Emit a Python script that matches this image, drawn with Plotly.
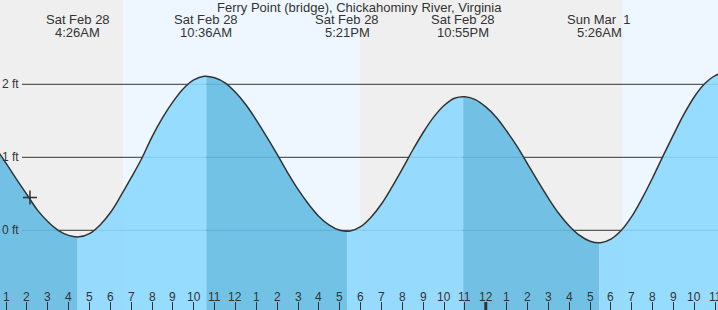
import plotly.graph_objects as go

# ---- data (hours since Sat Feb 28 00:00), tide height in ft ----
tide_t = [0.0, 0.5, 1.0, 1.5, 2.0, 2.5, 3.0, 3.5, 4.0, 4.5,
          5.0, 5.5, 6.0, 6.5, 7.0, 7.5, 8.0, 8.5, 9.0, 9.5,
          10.0, 10.5, 11.0, 11.5, 12.0, 12.5, 13.0, 13.5, 14.0, 14.5,
          15.0, 15.5, 16.0, 16.5, 17.0, 17.5, 18.0, 18.5, 19.0, 19.5,
          20.0, 20.5, 21.0, 21.5, 22.0, 22.5, 23.0, 23.5, 24.0, 24.5,
          25.0, 25.5, 26.0, 26.5, 27.0, 27.5, 28.0, 28.5, 29.0, 29.5,
          30.0, 30.5, 31.0, 31.5, 32.0, 32.5, 33.0, 33.5, 34.0, 34.5,
          35.0, 35.5, 36.0]
tide_h = [1.34, 1.13, 0.92, 0.70, 0.49, 0.28, 0.12, 0.00, -0.07, -0.09,
          -0.045, 0.07, 0.24, 0.47, 0.72, 0.98, 1.28, 1.54, 1.76, 1.94,
          2.06, 2.11, 2.09, 2.02, 1.89, 1.72, 1.51, 1.28, 1.04, 0.79,
          0.56, 0.36, 0.19, 0.07, 0.00, -0.01, 0.05, 0.18, 0.36, 0.59,
          0.84, 1.10, 1.34, 1.55, 1.71, 1.81, 1.83, 1.79, 1.69, 1.55,
          1.36, 1.15, 0.91, 0.67, 0.44, 0.23, 0.06, -0.07, -0.15, -0.17,
          -0.12, 0.00, 0.19, 0.44, 0.72, 1.02, 1.31, 1.59, 1.83, 2.01,
          2.12, 2.16, 2.14]

ext_t = [4.433, 10.6, 17.35, 22.917, 29.433, 35.5]
ext_h = [-0.09, 2.11, -0.01, 1.83, -0.17, 2.16]
ext_date = ["Sat Feb 28", "Sat Feb 28", "Sat Feb 28", "Sat Feb 28", "Sun Mar\u00a0 1", "Sun Mar\u00a0 1"]
ext_time = ["4:26AM", "10:36AM", "5:21PM", "10:55PM", "5:26AM", "11:30AM"]

day_start = [6.62, 30.56]
day_end = [17.97, 40.0]

now_t = [2.15]
now_h = [0.45]

y_ticks = [0, 1, 2]
y_tick_text = ["0 ft", "1 ft", "2 ft"]

title = "Ferry Point (bridge), Chickahominy River, Virginia"

# ---- build ----
X0, X1 = 0.7124, 35.132
Y0, Y1 = -1.092, 3.155
FONT = "Liberation Sans, Arial, sans-serif"
TXT = "#333333"

fig = go.Figure()

bounds_t = [tide_t[0]] + ext_t + [tide_t[-1]]
bounds_h = [tide_h[0]] + ext_h + [tide_h[-1]]
for i in range(len(bounds_t) - 1):
    a, b = bounds_t[i], bounds_t[i + 1]
    seg = [(a, bounds_h[i])]
    seg += [(t, h) for t, h in zip(tide_t, tide_h) if a + 0.15 < t < b - 0.15]
    seg += [(b, bounds_h[i + 1])]
    falling = (i % 2 == 0)
    col = "rgba(100,187,227,0.9)" if falling else "rgba(140,216,254,0.9)"
    fig.add_trace(go.Scatter(x=[a, b], y=[Y0 - 1, Y0 - 1], mode="lines",
                             line=dict(width=0), hoverinfo="skip"))
    fig.add_trace(go.Scatter(x=[s[0] for s in seg], y=[s[1] for s in seg],
                             mode="lines", line=dict(width=0, shape="spline", smoothing=1),
                             fill="tonexty", fillcolor=col, hoverinfo="skip"))

fig.add_trace(go.Scatter(x=tide_t, y=tide_h, mode="lines",
                         line=dict(color="#333333", width=1.5, shape="spline", smoothing=1),
                         hoverinfo="skip"))
fig.add_trace(go.Scatter(x=now_t, y=now_h, mode="markers",
                         marker=dict(symbol="cross-thin", size=10,
                                     line=dict(color="#333333", width=1.5)),
                         hoverinfo="skip"))

shapes = []
for s, e in zip(day_start, day_end):
    shapes.append(dict(type="rect", xref="x", yref="paper", x0=s, x1=e, y0=0, y1=1,
                       fillcolor="#eef7ff", line=dict(width=0), layer="below"))
for v in y_ticks:
    shapes.append(dict(type="line", xref="paper", yref="y", x0=22 / 718, x1=1, y0=v, y1=v,
                       line=dict(color="#333333", width=1), layer="below"))
shapes.append(dict(type="line", xref="x", yref="paper", x0=24, x1=24, y0=0, y1=8 / 310,
                   line=dict(color="#333333", width=3)))

ann = []
ann.append(dict(text=title, xref="paper", yref="paper", x=0.5, y=1 - 7.5 / 310,
                xanchor="center", yanchor="middle", showarrow=False,
                font=dict(family=FONT, size=13, color=TXT)))
for t, d, tm in zip(ext_t, ext_date, ext_time):
    ann.append(dict(text=d, xref="x", yref="paper", x=t, y=1 - 20 / 310,
                    xanchor="center", yanchor="middle", showarrow=False,
                    font=dict(family=FONT, size=13, color=TXT)))
    ann.append(dict(text=tm, xref="x", yref="paper", x=t, y=1 - 32.5 / 310,
                    xanchor="center", yanchor="middle", showarrow=False,
                    font=dict(family=FONT, size=13, color=TXT)))
for v, lab in zip(y_ticks, y_tick_text):
    ann.append(dict(text=lab, xref="paper", yref="y", x=20.5 / 718, y=v,
                    xanchor="right", yanchor="middle", showarrow=False,
                    font=dict(family=FONT, size=12, color=TXT)))
tick_hours = list(range(1, 36))
for t in tick_hours:
    lab = str((t - 1) % 12 + 1)
    ann.append(dict(text=lab, xref="x", yref="paper", x=t, y=1 - 296.5 / 310,
                    xanchor="center", yanchor="middle", showarrow=False,
                    font=dict(family=FONT, size=12, color=TXT)))

fig.update_layout(
    width=718, height=310, autosize=False,
    margin=dict(l=0, r=0, t=0, b=0, pad=0),
    paper_bgcolor="#efefef", plot_bgcolor="#efefef",
    showlegend=False, shapes=shapes, annotations=ann,
    xaxis=dict(range=[X0, X1], showgrid=False, zeroline=False, showline=False,
               tickvals=tick_hours, ticks="inside", ticklen=8, tickwidth=1,
               tickcolor="#333333", showticklabels=False, fixedrange=True),
    yaxis=dict(range=[Y0, Y1], showgrid=False, zeroline=False, showline=False,
               showticklabels=False, ticks="", fixedrange=True),
)

fig.write_html("out.html", config={"displayModeBar": False})
